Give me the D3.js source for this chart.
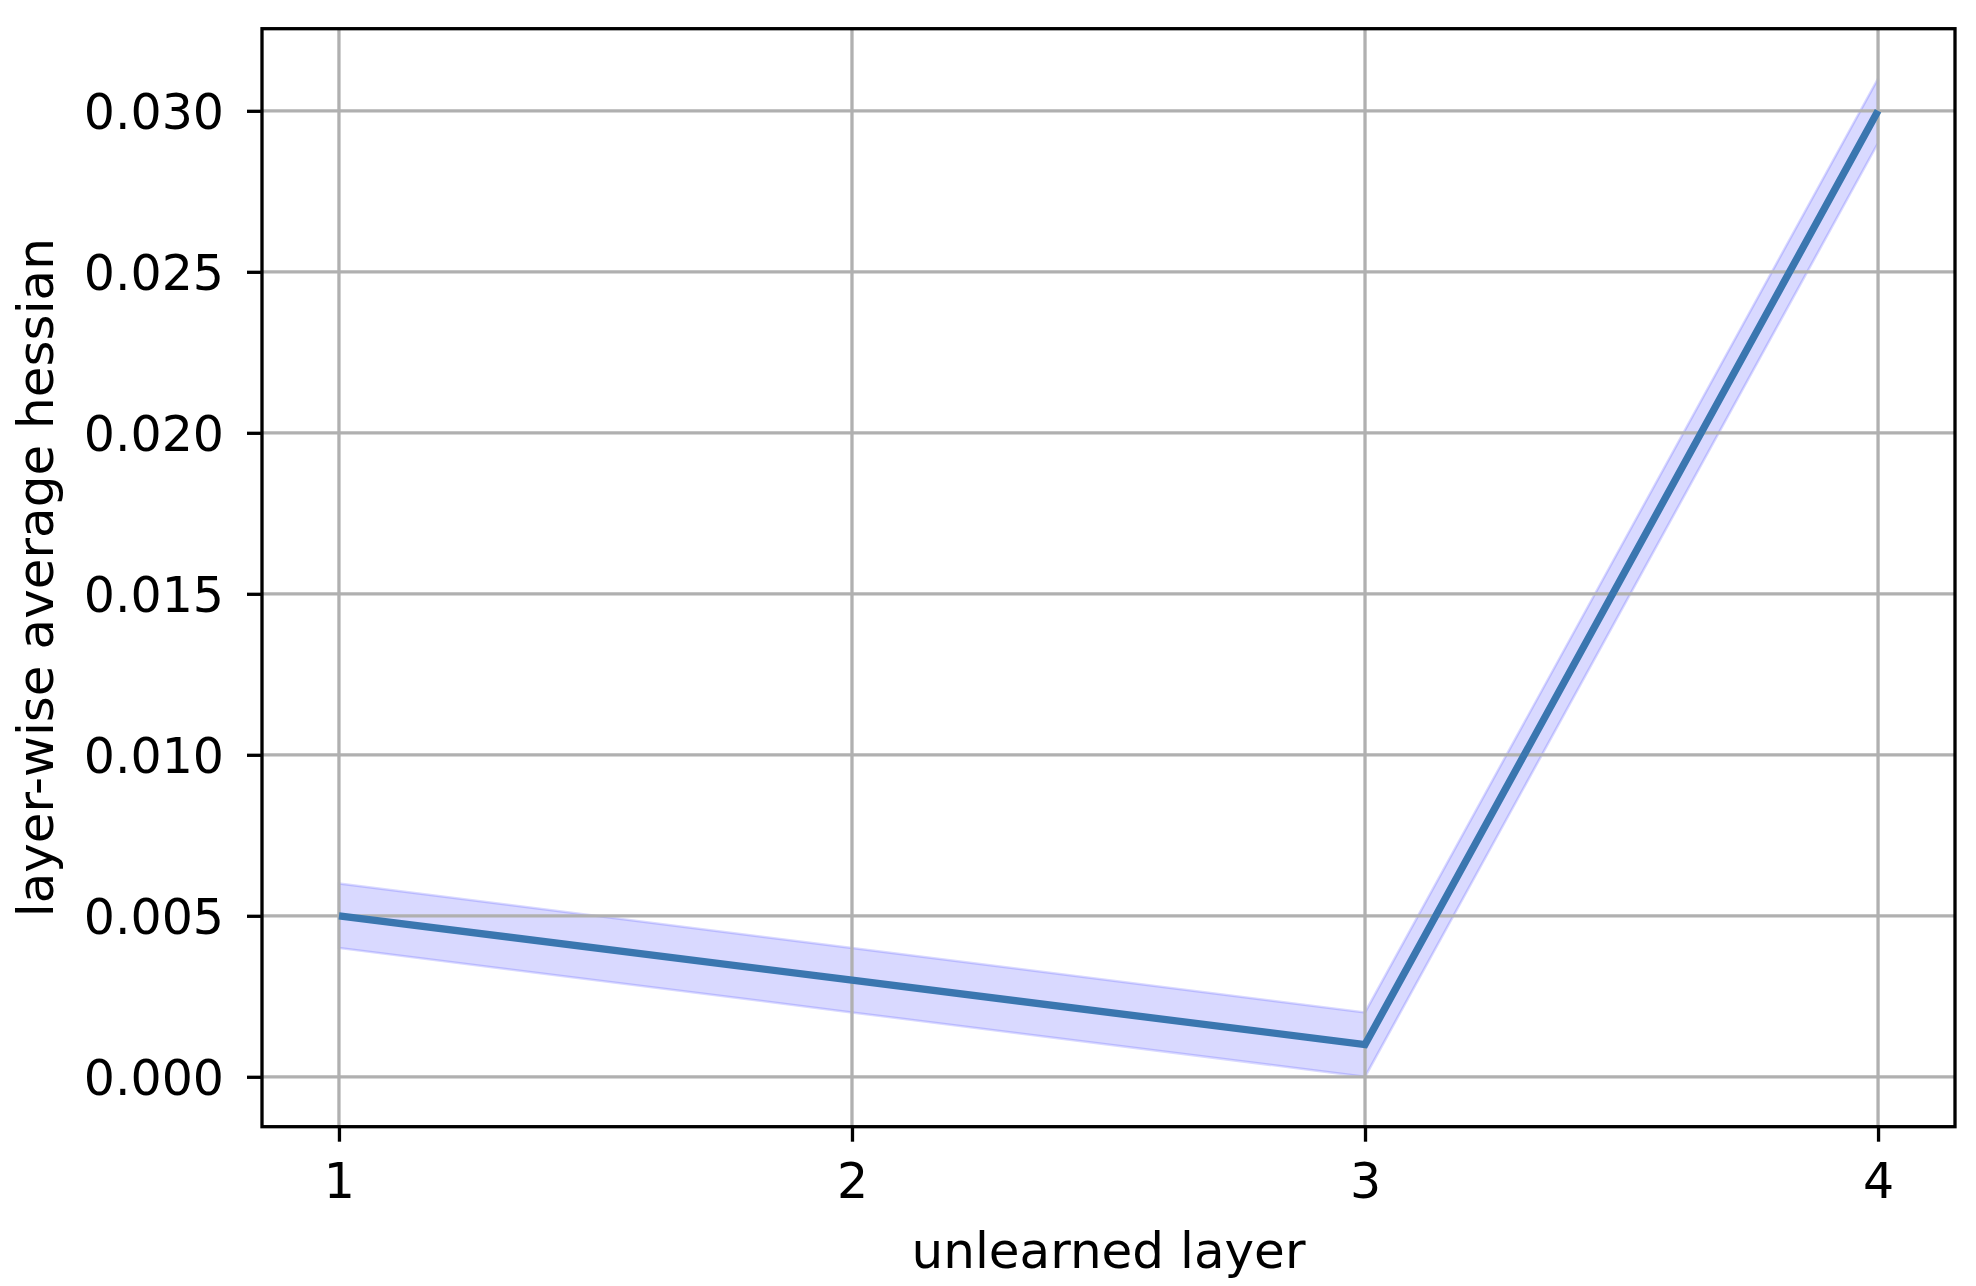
<!DOCTYPE html>
<html><head><meta charset="utf-8">
<script src="https://cdn.jsdelivr.net/npm/d3@7"></script>
<style>body{margin:0;background:#fff}svg{display:block}</style>
</head><body>
<script>
const layers = [1, 2, 3, 4];
const meanHessian = [0.005, 0.003, 0.001, 0.030];
const lowerBand = [0.004, 0.002, 0.000, 0.029];
const upperBand = [0.006, 0.004, 0.002, 0.031];
const xTicks = [1, 2, 3, 4];
const yTicks = [0.000, 0.005, 0.010, 0.015, 0.020, 0.025, 0.030];
const xLabel = "unlearned layer";
const yLabel = "layer-wise average hessian";

const W = 1976, H = 1286;
const L = 262, R = 1955, T = 28.7, B = 1126.7;
const svg = d3.select("body").append("svg").attr("width", W).attr("height", H);
const font = "DejaVu Sans";
const fs = 49;
const fsLabel = 50;

const x = d3.scaleLinear().domain([0.85, 4.15]).range([L, R]);
const y = d3.scaleLinear().domain([-0.00155, 0.03255]).range([B, T]);

const data = layers.map((l, i) => ({x: l, m: meanHessian[i], lo: lowerBand[i], hi: upperBand[i]}));

// band
svg.append("path").datum(data)
  .attr("d", d3.area().x(d => x(d.x)).y0(d => y(d.lo)).y1(d => y(d.hi)))
  .attr("fill", "rgba(0,0,255,0.15)")
  .attr("stroke", "rgba(0,0,255,0.15)").attr("stroke-width", 2.5);

// grid (above band, below line)
const g = svg.append("g");
g.selectAll(".gx").data(xTicks).join("line")
  .attr("x1", d => x(d)).attr("x2", d => x(d)).attr("y1", T).attr("y2", B)
  .attr("stroke", "#b0b0b0").attr("stroke-width", 3.3);
g.selectAll(".gy").data(yTicks).join("line")
  .attr("y1", d => y(d)).attr("y2", d => y(d)).attr("x1", L).attr("x2", R)
  .attr("stroke", "#b0b0b0").attr("stroke-width", 3.3);

// line
svg.append("path").datum(data)
  .attr("d", d3.line().x(d => x(d.x)).y(d => y(d.m)))
  .attr("fill", "none").attr("stroke", "#3a76af").attr("stroke-width", 7.3)
  .attr("stroke-linecap", "butt").attr("stroke-linejoin", "miter");

// axes
const xAxis = d3.axisBottom(x).tickValues(xTicks).tickFormat(d3.format("d")).tickSize(15).tickPadding(22);
const yAxis = d3.axisLeft(y).tickValues(yTicks).tickFormat(d3.format(".3f")).tickSize(15).tickPadding(22);
const gx = svg.append("g").attr("transform", `translate(0,${B})`).call(xAxis);
const gy = svg.append("g").attr("transform", `translate(${L},0)`).call(yAxis);
[gx, gy].forEach(a => {
  a.select(".domain").remove();
  a.selectAll(".tick line").attr("stroke", "#000").attr("stroke-width", 3.3);
  a.selectAll(".tick text").attr("font-family", font).attr("font-size", fs).attr("fill", "#000");
});
gx.selectAll(".tick text").attr("dy", "0.71em").attr("y", 37);
gy.selectAll(".tick text").attr("x", -38).attr("dy", "0.36em");

// frame
svg.append("rect").attr("x", L).attr("y", T).attr("width", R - L).attr("height", B - T)
  .attr("fill", "none").attr("stroke", "#000").attr("stroke-width", 3.3);

// labels
svg.append("text").attr("x", (L + R) / 2).attr("y", 1268).attr("text-anchor", "middle")
  .attr("font-family", font).attr("font-size", fsLabel).text(xLabel);
svg.append("text").attr("transform", `translate(53,${(T + B) / 2}) rotate(-90)`)
  .attr("text-anchor", "middle").attr("font-family", font).attr("font-size", fsLabel).text(yLabel);
</script>
</body></html>
